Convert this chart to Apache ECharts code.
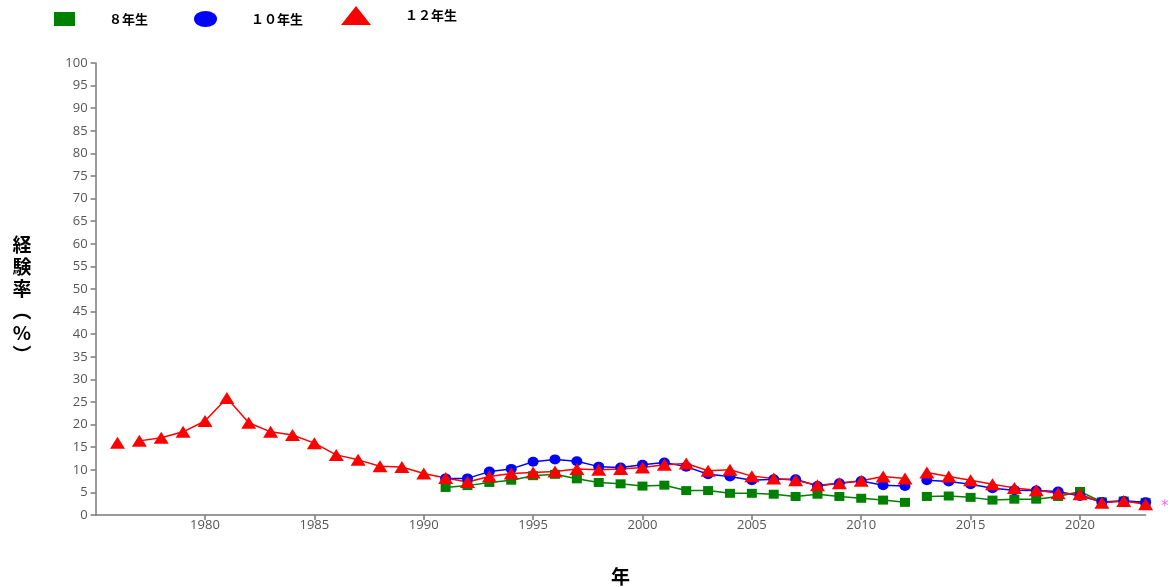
<!DOCTYPE html>
<html>
<head>
<meta charset="utf-8">
<script src="https://cdn.jsdelivr.net/npm/echarts@6/dist/echarts.min.js"></script>
<style>
html,body{margin:0;padding:0;background:#fff;}
#chart{width:1171px;height:587px;}
</style>
</head>
<body>
<div id="chart"></div>
<script>
// ---- data ----
const seriesNames = ['８年生', '１０年生', '１２年生'];
const start8 = 1991;
const grade8 = [6.1, 6.5, 7.2, 7.7, 8.7, 9.0, 8.0, 7.2, 6.9, 6.4, 6.6, 5.4, 5.4, 4.8, 4.8, 4.6, 4.1, 4.6, 4.1, 3.7, 3.3, 2.8, 4.1, 4.2, 3.9, 3.3, 3.5, 3.5, 4.1, 5.2, 2.9, 3.1, 2.8];
const start10 = 1991;
const grade10 = [8.1, 8.1, 9.6, 10.2, 11.8, 12.3, 11.9, 10.7, 10.5, 11.1, 11.6, 10.7, 9.0, 8.5, 7.7, 7.9, 7.9, 6.4, 7.0, 7.5, 6.6, 6.4, 7.7, 7.4, 6.8, 5.9, 5.5, 5.4, 5.2, 4.2, 2.9, 3.1, 2.8];
const start12 = 1976;
const grade12 = [16.0, 16.4, 17.1, 18.4, 20.8, 25.9, 20.4, 18.4, 17.7, 15.9, 13.3, 12.2, 10.8, 10.6, 9.2, 8.2, 7.3, 8.5, 9.2, 9.4, 9.6, 10.2, 10.0, 10.2, 10.5, 11.1, 11.4, 9.8, 10.0, 8.6, 8.1, 7.7, 6.6, 7.0, 7.6, 8.5, 8.1, 9.4, 8.5, 7.7, 6.8, 6.0, 5.5, 4.8, 4.6, 2.7, 3.1, 2.4];
const breaks8 = [2012];
const breaks10 = [2012];
const breaks12 = [1976, 2012];
const xTickLabels = [1980, 1985, 1990, 1995, 2000, 2005, 2010, 2015, 2020];
const yAxisName = '経\n験\n率\n︵\n%\n︶';
const xAxisName = '年';
const noteMark = '*';

function build(start, vals, breaks) {
  const out = [];
  vals.forEach((v, i) => {
    const yr = start + i;
    out.push([yr, v]);
    if (breaks.indexOf(yr) >= 0) out.push([yr + 0.5, '-']);
  });
  return out;
}

const chart = echarts.init(document.getElementById('chart'));
const legendText = {
  fontFamily: 'Noto Sans CJK JP',
  fontSize: 13,
  fontWeight: 'bold',
  color: '#000',
  rich: { s: { width: 29 }, t: { fontFamily: 'Noto Sans CJK JP', fontSize: 13, fontWeight: 'bold', color: '#000' } }
};
const fmt = n => '{s| }{t|' + n + '}';

const d8 = build(start8, grade8, breaks8);
const d10 = build(start10, grade10, breaks10);
d10[d10.length - 1] = {
  value: d10[d10.length - 1],
  label: { show: true, position: 'right', distance: 10, offset: [0, 5], formatter: noteMark, color: '#f070f0', fontSize: 15, fontFamily: 'DejaVu Sans' }
};
const d12 = build(start12, grade12, breaks12);

chart.setOption({
  animation: false,
  backgroundColor: '#fff',
  legend: [
    { left: 54, top: 12, padding: 0, itemWidth: 21, itemHeight: 14, data: [{ name: seriesNames[0], icon: 'rect' }], textStyle: legendText, formatter: fmt },
    { left: 194, top: 11, padding: 0, itemWidth: 23, itemHeight: 16, data: [{ name: seriesNames[1], icon: 'path://M0,8A11.5,8 0 1,0 23,8A11.5,8 0 1,0 0,8Z' }], textStyle: legendText, formatter: fmt },
    { left: 341, top: 6, padding: 0, itemWidth: 30, itemHeight: 19, data: [{ name: seriesNames[2], icon: 'triangle' }], textStyle: legendText, formatter: fmt }
  ],
  graphic: [
    { type: 'text', x: 22, y: 300, silent: true,
      style: { text: yAxisName, font: 'bold 19px "Noto Sans CJK JP"', fill: '#000', align: 'center', verticalAlign: 'middle', lineHeight: 22 } }
  ],
  grid: { left: 95.6, right: 25.4, top: 63, bottom: 72, containLabel: false, outerBoundsMode: 'none' },
  xAxis: {
    type: 'value',
    min: 1975,
    max: 2023,
    interval: 5,
    name: xAxisName,
    nameLocation: 'middle',
    nameGap: 62,
    nameTextStyle: { fontFamily: 'Noto Sans CJK JP', fontSize: 19, fontWeight: 'bold', color: '#000', verticalAlign: 'middle' },
    axisLine: { lineStyle: { color: '#7a7a7a', width: 1.5 } },
    axisTick: { show: true, length: 5, customValues: xTickLabels, lineStyle: { color: '#7a7a7a', width: 1.5 } },
    axisLabel: { customValues: xTickLabels, formatter: v => String(v), color: '#555', fontSize: 13, fontFamily: 'Open Sans', margin: 4 },
    splitLine: { show: false }
  },
  yAxis: {
    type: 'value',
    min: 0,
    max: 100,
    interval: 5,
    axisLine: { show: true, lineStyle: { color: '#7a7a7a', width: 1.5 } },
    axisTick: { show: true, length: 5, lineStyle: { color: '#7a7a7a', width: 1.5 } },
    axisLabel: { color: '#555', fontSize: 13, fontFamily: 'Open Sans', margin: 8 },
    splitLine: { show: false }
  },
  series: [
    { name: seriesNames[0], type: 'line', data: d8, connectNulls: false, symbol: 'rect', symbolSize: [10, 9],
      itemStyle: { color: '#008000' }, lineStyle: { color: '#008000', width: 1.5 } },
    { name: seriesNames[1], type: 'line', data: d10, connectNulls: false, symbol: 'circle', symbolSize: [11, 10],
      itemStyle: { color: '#0000ff' }, lineStyle: { color: '#0000ff', width: 1.5 } },
    { name: seriesNames[2], type: 'line', data: d12, connectNulls: false, symbol: 'triangle', symbolSize: [15, 12],
      itemStyle: { color: '#ff0000' }, lineStyle: { color: '#ff0000', width: 1.5 } }
  ]
});
</script>
</body>
</html>
